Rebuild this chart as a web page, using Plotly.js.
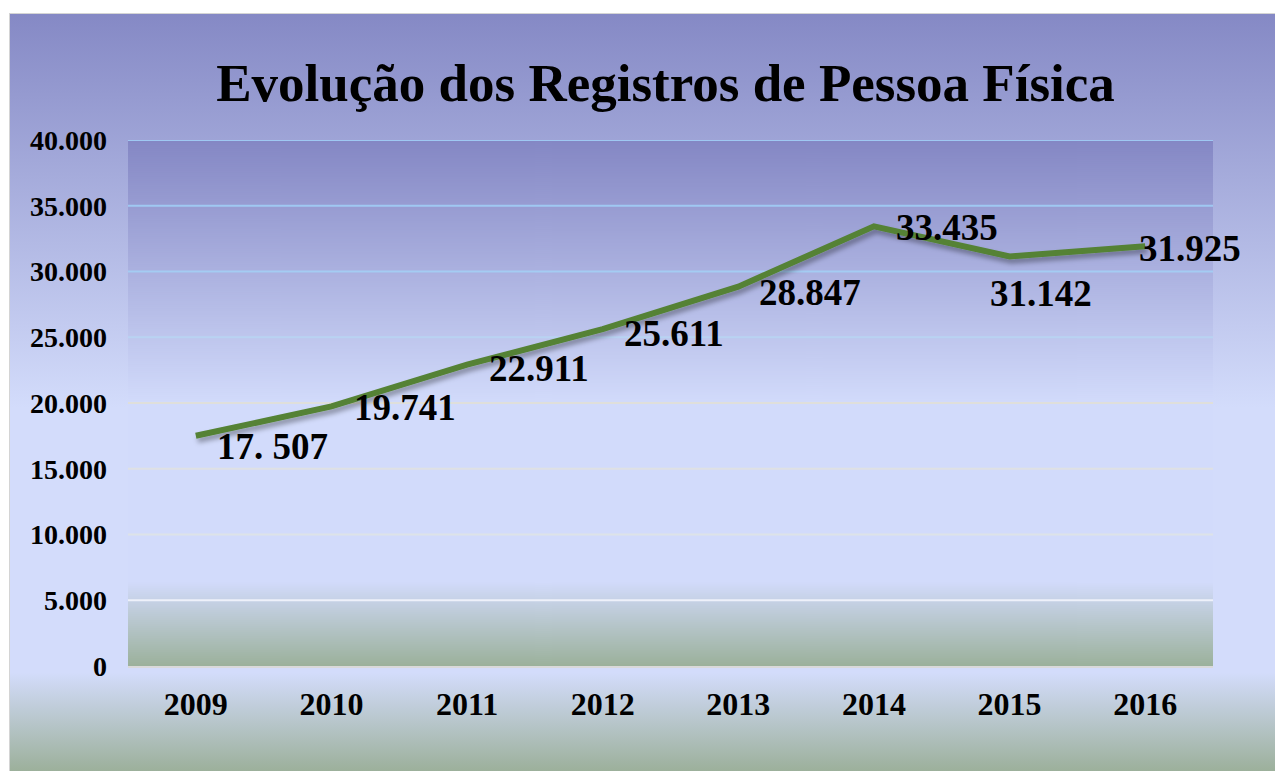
<!DOCTYPE html>
<html>
<head>
<meta charset="utf-8">
<script src="https://cdn.plot.ly/plotly-3.0.1.min.js"></script>
<style>
  html, body { margin: 0; padding: 0; background: #ffffff; }
  #frame {
    position: absolute; left: 9px; top: 13px; width: 1266px; height: 758px;
    box-sizing: border-box; border-left: 1px solid #d4d4d4; border-top: 1px solid #d4d4d4;
    background: linear-gradient(to bottom, #8589c5 0%, #d3dcfb 52%, #d3dcfb 87%, #9cb09b 100%);
  }
  #chart { position: absolute; left: 0; top: 0; width: 1275px; height: 771px; }
</style>
</head>
<body>
<div id="frame"></div>
<div id="chart"></div>
<script>
// ---- data ----
const years = ['2009', '2010', '2011', '2012', '2013', '2014', '2015', '2016'];
const registros = [17507, 19741, 22911, 25611, 28847, 33435, 31142, 31925];
const labelTexts = ['17. 507', '19.741', '22.911', '25.611', '28.847', '33.435', '31.142', '31.925'];
const yTicks = [0, 5000, 10000, 15000, 20000, 25000, 30000, 35000, 40000];

// ---- styling ----
const labelOffsets = [[19, -11], [21, -1], [20, -4], [19, -4], [19, -6], [20, -1], [-22, -37], [-8, -2]];
const gridColors = ['#d9d9d9', '#eef1fa', '#dde3e8', '#dfe1e4', '#dfdfdb', '#b9d3f2', '#a4ccf3', '#9fc8f2', '#9fc8f2'];

function gradientURL() {
  const c = document.createElement('canvas');
  c.width = 4; c.height = 526;
  const ctx = c.getContext('2d');
  const g = ctx.createLinearGradient(0, 0, 0, 526);
  g.addColorStop(0, '#8487c4');
  g.addColorStop(0.5, '#d2dbfb');
  g.addColorStop(0.84, '#d2dbfb');
  g.addColorStop(1, '#9bb19b');
  ctx.fillStyle = g;
  ctx.fillRect(0, 0, 4, 526);
  return c.toDataURL();
}

const serif = 'Liberation Serif, Times New Roman, serif';

const trace = {
  x: years,
  y: registros,
  type: 'scatter',
  mode: 'lines',
  line: { color: '#548235', width: 6 },
  hoverinfo: 'skip'
};

const annotations = years.map((yr, i) => ({
  x: years.indexOf(yr), y: registros[i], xref: 'x', yref: 'y',
  text: labelTexts[i], showarrow: false,
  xanchor: 'left', yanchor: 'middle',
  xshift: labelOffsets[i][0], yshift: labelOffsets[i][1],
  font: { family: serif, size: 37, color: '#000000', weight: 'bold' }
}));

const shapes = yTicks.slice(1).map((v, i) => ({
  type: 'line', xref: 'paper', x0: 0, x1: 1, yref: 'y', y0: v, y1: v,
  line: { color: gridColors[i + 1], width: 2 }, layer: 'below'
}));

const layout = {
  width: 1275, height: 771,
  margin: { l: 128, r: 62, t: 140, b: 105 },
  paper_bgcolor: 'rgba(0,0,0,0)',
  plot_bgcolor: 'rgba(0,0,0,0)',
  separators: ',.',
  showlegend: false,
  title: {
    text: 'Evolução dos Registros de Pessoa Física',
    font: { family: serif, size: 53, color: '#000000', weight: 'bold' },
    x: 0.5 - 5 / 1085, xref: 'paper', xanchor: 'center',
    y: 1 - 82 / 771, yref: 'container', yanchor: 'middle'
  },
  xaxis: {
    type: 'category', range: [-0.5, 7.5],
    showgrid: false, zeroline: false,
    showline: true, linecolor: '#d9d9d9', linewidth: 2,
    ticks: '', ticklabelstandoff: 9,
    tickfont: { family: serif, size: 32, color: '#000000', weight: 'bold' }
  },
  yaxis: {
    range: [0, 40000], tickvals: yTicks, tickformat: ',d',
    showgrid: false, zeroline: false, showline: false,
    ticks: '', ticklabelstandoff: 20,
    tickfont: { family: serif, size: 28, color: '#000000', weight: 'bold' }
  },
  images: [{
    source: gradientURL(), xref: 'paper', yref: 'paper',
    x: 0, y: 1, sizex: 1, sizey: 1, sizing: 'stretch',
    xanchor: 'left', yanchor: 'top', layer: 'below'
  }],
  shapes: shapes,
  annotations: annotations
};

Plotly.newPlot('chart', [trace], layout, { displayModeBar: false, staticPlot: true }).then(gd => {
  const ns = 'http://www.w3.org/2000/svg';
  const svg = gd.querySelector('.main-svg');
  let defs = svg.querySelector('defs');
  if (!defs) { defs = document.createElementNS(ns, 'defs'); svg.insertBefore(defs, svg.firstChild); }
  const f = document.createElementNS(ns, 'filter');
  f.setAttribute('id', 'lineShadow');
  f.setAttribute('x', '-5%'); f.setAttribute('y', '-20%');
  f.setAttribute('width', '110%'); f.setAttribute('height', '140%');
  const ds = document.createElementNS(ns, 'feDropShadow');
  ds.setAttribute('dx', '2'); ds.setAttribute('dy', '4');
  ds.setAttribute('stdDeviation', '2.5');
  ds.setAttribute('flood-color', '#000000'); ds.setAttribute('flood-opacity', '0.35');
  f.appendChild(ds); defs.appendChild(f);
  gd.querySelectorAll('.scatterlayer .js-line').forEach(p => p.setAttribute('filter', 'url(#lineShadow)'));
});
</script>
</body>
</html>
